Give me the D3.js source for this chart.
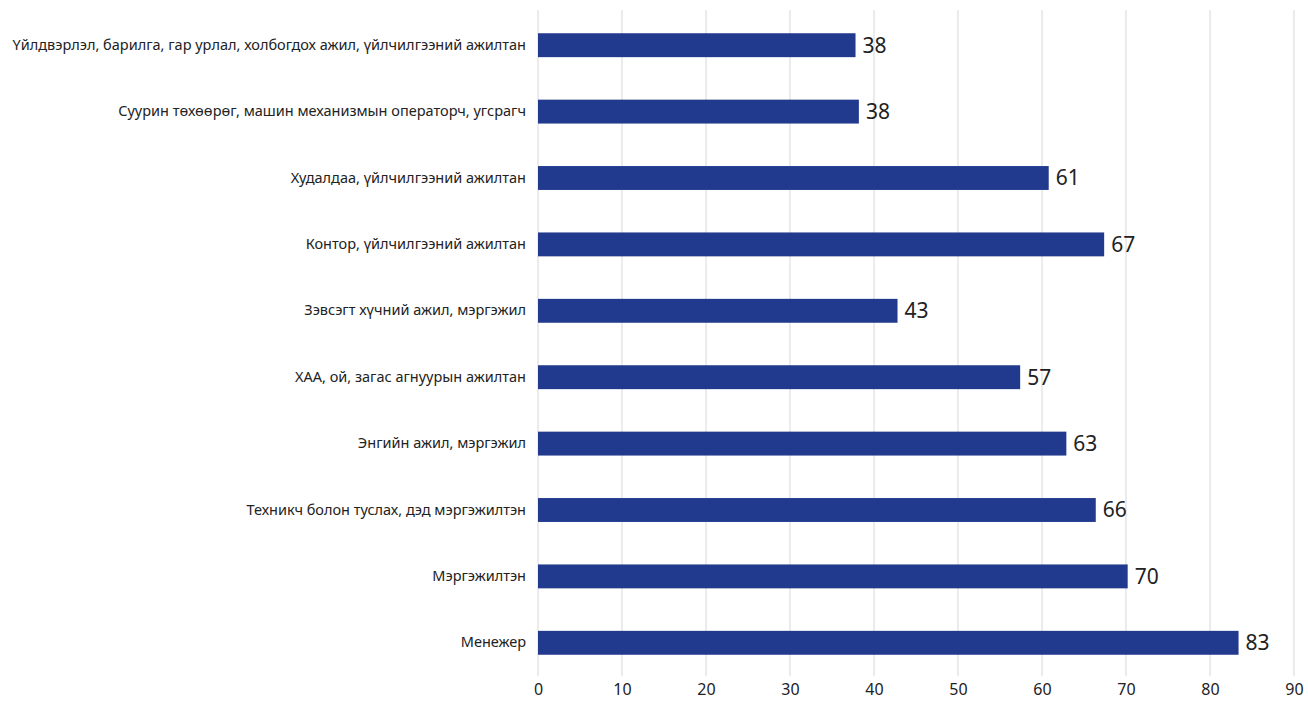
<!DOCTYPE html>
<html>
<head>
<meta charset="utf-8">
<script src="https://cdn.jsdelivr.net/npm/d3@7"></script>
<style>
  html, body { margin: 0; padding: 0; background: #fff; }
  svg { display: block; font-family: "Noto Sans", "Open Sans", sans-serif; }
</style>
</head>
<body>
<svg id="chart" width="1308" height="708"></svg>
<script>
// Occupation groups, top to bottom
const categories = [
  "Үйлдвэрлэл, барилга, гар урлал, холбогдох ажил, үйлчилгээний ажилтан",
  "Суурин төхөөрөг, машин механизмын операторч, угсрагч",
  "Худалдаа, үйлчилгээний ажилтан",
  "Контор, үйлчилгээний ажилтан",
  "Зэвсэгт хүчний ажил, мэргэжил",
  "ХАА, ой, загас агнуурын ажилтан",
  "Энгийн ажил, мэргэжил",
  "Техникч болон туслах, дэд мэргэжилтэн",
  "Мэргэжилтэн",
  "Менежер"
];
const values = [37.8, 38.2, 60.8, 67.4, 42.8, 57.4, 62.9, 66.4, 70.2, 83.4];
const xTicks = [0, 10, 20, 30, 40, 50, 60, 70, 80, 90];

const svg = d3.select("#chart");
const margin = { left: 538, right: 14, top: 12, bottom: 32 };
const W = 1308, H = 708;

const x = d3.scaleLinear().domain([0, 90]).range([margin.left, W - margin.right]);
const y = d3.scaleBand().domain(categories).range([margin.top, H - margin.bottom]).paddingInner(0.64).paddingOuter(0.32);

// vertical gridlines
svg.append("g")
  .selectAll("line")
  .data(xTicks)
  .join("line")
  .attr("x1", d => x(d)).attr("x2", d => x(d))
  .attr("y1", 10).attr("y2", H - margin.bottom)
  .attr("stroke", "#e0e0e0")
  .attr("stroke-width", 1.3);

// x axis labels
const xAxis = d3.axisBottom(x).tickValues(xTicks).tickSize(0).tickPadding(8);
const gx = svg.append("g").attr("transform", `translate(0,${H - margin.bottom})`).call(xAxis);
gx.select(".domain").remove();
gx.selectAll("text").attr("font-size", 16).attr("fill", "#222").attr("font-family", "Noto Sans");

// y axis labels
const yAxis = d3.axisLeft(y).tickSize(0).tickPadding(12);
const gy = svg.append("g").attr("transform", `translate(${margin.left},0)`).call(yAxis);
gy.select(".domain").remove();
gy.selectAll("text").attr("font-size", 14.5).attr("fill", "#222").attr("font-family", "Noto Sans");

// bars
const rows = categories.map((c, i) => ({ c, v: values[i] }));
svg.append("g")
  .selectAll("rect")
  .data(rows)
  .join("rect")
  .attr("x", x(0))
  .attr("y", d => y(d.c))
  .attr("width", d => x(d.v) - x(0))
  .attr("height", y.bandwidth())
  .attr("fill", "#223a8e");

// value labels
svg.append("g")
  .selectAll("text")
  .data(rows)
  .join("text")
  .attr("x", d => x(d.v) + 7)
  .attr("y", d => y(d.c) + y.bandwidth() / 2)
  .attr("dy", "0.35em")
  .attr("font-size", 21)
  .attr("fill", "#222")
  .text(d => d3.format(".0f")(d.v));
</script>
</body>
</html>
